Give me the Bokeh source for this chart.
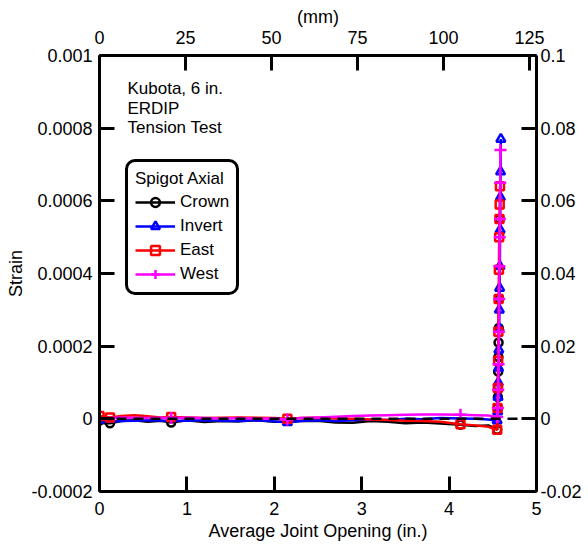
from bokeh.plotting import figure
from bokeh.models import Range1d, LinearAxis, FixedTicker, Span, Label
from bokeh.embed import file_html
from bokeh.resources import INLINE

# ---------------- data ----------------
x_ticks = [0, 1, 2, 3, 4, 5]
mm_ticks = [0, 25, 50, 75, 100, 125]
y_ticks = [-0.0002, 0.0, 0.0002, 0.0004, 0.0006, 0.0008, 0.001]
y_tick_labels = ["-0.0002", "0", "0.0002", "0.0004", "0.0006", "0.0008", "0.001"]
pct_ticks = [-0.02, 0.0, 0.02, 0.04, 0.06, 0.08, 0.1]
pct_tick_labels = ["-0.02", "0", "0.02", "0.04", "0.06", "0.08", "0.1"]

crown_x = [0.00, 0.05, 0.12, 0.25, 0.40, 0.55, 0.70, 0.82, 1.00, 1.20, 1.40, 1.60, 1.80, 2.00,
           2.15, 2.30, 2.50, 2.70, 2.90, 3.10, 3.30, 3.50, 3.70, 3.90, 4.13, 4.30, 4.45, 4.55,
           4.555, 4.558, 4.560, 4.562, 4.564, 4.566, 4.568, 4.572, 4.580]
crown_y = [-0.000005, -0.000012, -0.000012, -0.000006, -0.000004, -0.000008, -0.000005, -0.000010,
           -0.000004, -0.000009, -0.000006, -0.000007, -0.000004, -0.000008, -0.000008, -0.000006,
           -0.000005, -0.000010, -0.000011, -0.000006, -0.000008, -0.000012, -0.000010, -0.000013,
           -0.000016, -0.000020, -0.000018, -0.000030,
           0.00003, 0.00006, 0.00009, 0.00013, 0.00017, 0.00021, 0.00025, 0.00033, 0.00055]
crown_marks = [0, 2, 7, 24, 27, 28, 29, 30, 31, 32, 33, 34, 35, 36]

invert_x = [0.00, 0.10, 0.25, 0.40, 0.60, 0.82, 1.00, 1.20, 1.40, 1.60, 1.80, 2.00, 2.15, 2.30,
            2.50, 2.70, 2.90, 3.10, 3.30, 3.50, 3.70, 3.90, 4.13, 4.30, 4.45, 4.55,
            4.556, 4.560, 4.563, 4.566, 4.569, 4.572, 4.575, 4.578, 4.581, 4.584, 4.587, 4.589, 4.592]
invert_y = [-0.000003, -0.000008, -0.000006, -0.000005, -0.000004, -0.000006, -0.000005, -0.000004,
            -0.000005, -0.000006, -0.000004, -0.000007, -0.000010, -0.000006, -0.000004, -0.000006,
            -0.000004, -0.000002, -0.000003, 0.000000, -0.000001, 0.000002, 0.000001, 0.000000,
            -0.000002, -0.000005,
            0.00002, 0.00006, 0.00010, 0.00014, 0.00019, 0.00025, 0.00030, 0.00036, 0.00042,
            0.00052, 0.00061, 0.00068, 0.00077]
invert_marks = [0, 12, 25, 26, 27, 28, 29, 30, 31, 32, 33, 34, 35, 36, 37, 38]

east_x = [0.00, 0.06, 0.12, 0.25, 0.40, 0.55, 0.70, 0.82, 1.00, 1.20, 1.40, 1.60, 1.80, 2.00,
          2.15, 2.30, 2.50, 2.70, 2.90, 3.10, 3.30, 3.50, 3.70, 3.90, 4.13, 4.30, 4.45, 4.55,
          4.555, 4.558, 4.561, 4.564, 4.567, 4.570, 4.573, 4.576, 4.579, 4.582]
east_y = [0.000008, 0.000006, 0.000004, 0.000008, 0.000010, 0.000007, 0.000004, 0.000005,
          0.000004, 0.000002, 0.000003, 0.000004, 0.000003, 0.000002, 0.000000, 0.000002,
          0.000003, 0.000001, 0.000000, -0.000002, -0.000003, -0.000005, -0.000006, -0.000008,
          -0.000015, -0.000018, -0.000022, -0.000030,
          0.00003, 0.000085, 0.00016, 0.00024, 0.00033, 0.00041, 0.00050, 0.00055, 0.00059, 0.00064]
east_marks = [0, 2, 7, 14, 24, 27, 28, 29, 30, 31, 32, 33, 34, 35, 36, 37]

west_x = [0.00, 0.10, 0.25, 0.40, 0.55, 0.70, 0.82, 1.00, 1.20, 1.40, 1.60, 1.80, 2.00, 2.15,
          2.30, 2.50, 2.70, 2.90, 3.10, 3.30, 3.50, 3.70, 3.90, 4.13, 4.30, 4.45, 4.55,
          4.558, 4.562, 4.566, 4.570, 4.573, 4.576, 4.579, 4.582, 4.585, 4.588]
west_y = [0.000000, 0.000002, 0.000004, 0.000003, 0.000002, 0.000003, 0.000002, 0.000003,
          0.000002, 0.000001, 0.000002, 0.000000, 0.000001, -0.000002, 0.000002, 0.000004,
          0.000006, 0.000008, 0.000009, 0.000010, 0.000011, 0.000012, 0.000012, 0.000011,
          0.000010, 0.000009, 0.000005,
          0.00003, 0.00008, 0.00015, 0.00024, 0.00033, 0.00042, 0.00050, 0.00055, 0.00065, 0.00074]
west_marks = [0, 6, 13, 23, 26, 27, 28, 29, 30, 31, 32, 33, 34, 35, 36]

series = [
    ("Crown", crown_x, crown_y, crown_marks, "black", "circle", 8),
    ("Invert", invert_x, invert_y, invert_marks, "#0000ff", "triangle", 9),
    ("East", east_x, east_y, east_marks, "#ff0000", "square", 8),
    ("West", west_x, west_y, west_marks, "#ff00ff", "cross", 12),
]

notes = ["Kubota, 6 in.", "ERDIP", "Tension Test"]

# ---------------- figure ----------------
FONT = "Liberation Sans"
FS = "18px"
FS_SMALL = "17px"

p = figure(width=588, height=547,
           x_range=Range1d(0, 5), y_range=Range1d(-0.0002, 0.001),
           output_backend="svg", toolbar_location=None,
           min_border_left=99, min_border_right=52, min_border_top=55, min_border_bottom=56)
p.extra_x_ranges = {"mm": Range1d(0, 127)}
p.extra_y_ranges = {"pct": Range1d(-0.02, 0.1)}
p.grid.visible = False
p.outline_line_color = None
p.background_fill_color = "white"
p.border_fill_color = "white"

bottom_axis = p.below[0]
left_axis = p.left[0]

top_axis = LinearAxis(x_range_name="mm", axis_label="(mm)")
right_axis = LinearAxis(y_range_name="pct")
p.add_layout(top_axis, "above")
p.add_layout(right_axis, "right")

bottom_axis.axis_label = "Average Joint Opening (in.)"
left_axis.axis_label = "Strain"

bottom_axis.ticker = FixedTicker(ticks=x_ticks)
top_axis.ticker = FixedTicker(ticks=mm_ticks)
left_axis.ticker = FixedTicker(ticks=y_ticks)
right_axis.ticker = FixedTicker(ticks=pct_ticks)
left_axis.major_label_overrides = {t: s for t, s in zip(y_ticks, y_tick_labels)}
right_axis.major_label_overrides = {t: s for t, s in zip(pct_ticks, pct_tick_labels)}

for ax in [bottom_axis, top_axis, left_axis, right_axis]:
    ax.axis_line_width = 3
    ax.axis_line_color = "black"
    ax.major_tick_line_width = 3
    ax.major_tick_line_color = "black"
    ax.major_tick_in = 15
    ax.major_tick_out = 0
    ax.minor_tick_line_color = None
    ax.major_label_text_font = FONT
    ax.major_label_text_font_size = FS
    ax.major_label_text_color = "black"
    ax.axis_label_text_font = FONT
    ax.axis_label_text_font_size = FS
    ax.axis_label_text_font_style = "normal"
    ax.axis_label_text_color = "black"

bottom_axis.major_label_standoff = 10
bottom_axis.axis_label_standoff = 3
top_axis.major_label_standoff = 12
top_axis.axis_label_standoff = 1
left_axis.major_label_standoff = 7
left_axis.axis_label_standoff = 2
right_axis.major_label_standoff = 4

# zero reference line
p.add_layout(Span(location=0, dimension="width", line_color="black",
                  line_width=2.5, line_dash="10 7"))

for name, xs, ys, marks, color, marker, size in series:
    p.line(xs, ys, line_color=color, line_width=2.5, legend_label=name)
    p.scatter([xs[i] for i in marks], [ys[i] for i in marks], marker=marker, size=size,
              line_color=color, line_width=2.5, fill_alpha=0, legend_label=name)

for i, t in enumerate(notes):
    p.add_layout(Label(x=0.32, y=0.000935 - i * 0.0000535, text=t,
                       text_font=FONT, text_font_size=FS_SMALL, text_baseline="top",
                       text_color="black"))

lg = p.legend[0]
lg.title = "Spigot Axial"
lg.title_text_font = FONT
lg.title_text_font_size = FS_SMALL
lg.title_text_font_style = "normal"
lg.title_text_color = "black"
lg.title_standoff = 2
lg.label_text_font = FONT
lg.label_text_font_size = FS_SMALL
lg.label_text_color = "black"
lg.location = (26, 196)
lg.border_line_color = "black"
lg.border_line_alpha = 1
lg.border_line_width = 3
lg.background_fill_color = "white"
lg.background_fill_alpha = 1
lg.padding = 7
lg.spacing = 2
lg.margin = 0
lg.label_height = 22
lg.glyph_height = 22
lg.glyph_width = 40
lg.label_standoff = 5
try:
    lg.border_radius = 10
except Exception:
    pass

open("out.html", "w").write(file_html(p, INLINE))
